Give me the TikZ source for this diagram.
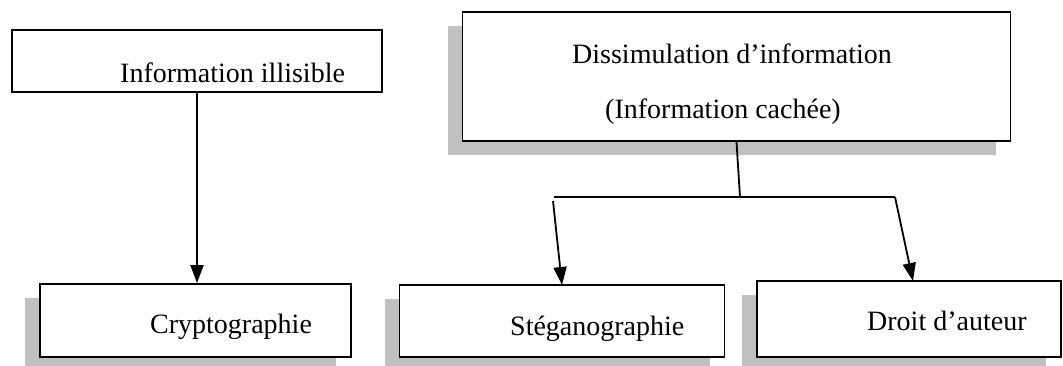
\documentclass[tikz,border=0pt]{standalone}
\usepackage{fontspec}
\setmainfont{Liberation Serif}
\usetikzlibrary{arrows.meta,shadows}
\definecolor{shadowgray}{RGB}{192,192,192}
\tikzset{
  box/.style={draw=black, fill=white, line width=1.8pt, rectangle, inner sep=0pt},
  shadowbox/.style={box, drop shadow={shadow xshift=-15pt, shadow yshift=-14pt, fill=shadowgray, opacity=1}},
  label text/.style={anchor=base west, inner sep=0pt, font=\fontsize{28}{30}\selectfont},
  link/.style={line width=1.8pt},
  arr/.style={link, -{Triangle[width=13pt,length=18pt]}}
}
\begin{document}
\begin{tikzpicture}[x=1pt,y=-1pt]
  \useasboundingbox (0,0) rectangle (1063,365);
  % boxes
  \node[box, minimum width=370pt, minimum height=62pt] (b1) at (197,61) {};
  \node[shadowbox, minimum width=548pt, minimum height=129pt] (b2) at (736.5,76.5) {};
  \node[shadowbox, minimum width=311pt, minimum height=73pt] (b3) at (195.5,320.5) {};
  \node[shadowbox, minimum width=325pt, minimum height=72pt] (b4) at (562,321) {};
  \node[shadowbox, minimum width=304pt, minimum height=76pt] (b5) at (909,319) {};
  % texts
  \node[label text] (t1) at (120,82) {Information illisible};
  \node[label text] (t2a) at (572,63) {Dissimulation d’information};
  \node[label text] (t2b) at (605,118) {(Information cachée)};
  \node[label text] (t3) at (150,333) {Cryptographie};
  \node[label text] (t4) at (510,335) {Stéganographie};
  \node[label text] (t5) at (867,330) {Droit d’auteur};
  % junction points of the fork
  \coordinate (jm) at (740,197);
  \coordinate (jl) at (554,197);
  \coordinate (jr) at (895,197);
  \coordinate (sl) at (553,201);
  \coordinate (tl) at (562,285);
  \coordinate (tr) at (913,281);
  % connectors
  \draw[arr] (b1.south) -- (b1.south |- b3.north);
  \draw[link] (b2.south) -- (jm);
  \draw[link] (jl) -- (jr);
  \draw[arr] (sl) -- (tl);
  \draw[arr] (jr) -- (tr);
\end{tikzpicture}
\end{document}
